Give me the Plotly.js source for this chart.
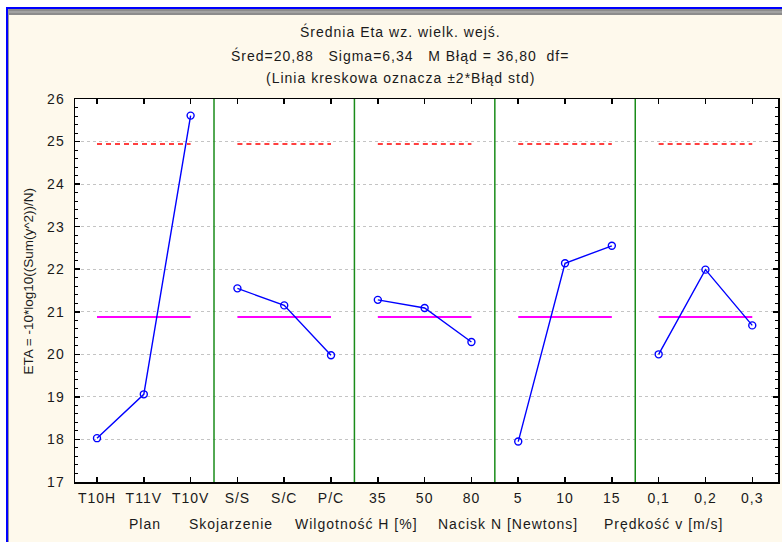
<!DOCTYPE html>
<html><head><meta charset="utf-8">
<script src="https://cdn.plot.ly/plotly-3.0.1.min.js"></script>
<style>html,body{margin:0;padding:0;background:#fff} svg text{letter-spacing:1px}</style>
</head><body><div id="chart" style="width:782px;height:542px"></div>
<script>
// ---- data ----
const categories = ['T10H','T11V','T10V','S/S','S/C','P/C','35','50','80','5','10','15','0,1','0,2','0,3'];
const groupNames = ['Plan','Skojarzenie','Wilgotność H [%]','Nacisk N [Newtons]','Prędkość v [m/s]'];
const etaValues = [18.03,19.06,25.61, 21.55,21.15,19.98, 21.28,21.09,20.29, 17.95,22.14,22.55, 20.00,21.99,20.68];
const grandMean = 20.88;
const upperLimit = 24.94;
const yTickValues = [17,18,19,20,21,22,23,24,25,26];
const titleLines = ['Średnia Eta wz. wielk. wejś.',
  'Śred=20,88   Sigma=6,34   M Błąd = 36,80  df=',
  '(Linia kreskowa oznacza ±2*Błąd std)'];
const yTitle = 'ETA = -10*log10((Sum(y^2))/N)';

// ---- layout constants ----
const W = 782, H = 542, L = 75, R = 4, T = 99, B = 60;
const PW = W - L - R, PH = H - T - B;
const px = p => (p - L) / PW;
const py = p => (H - B - p) / PH;
const groupLabelPx = [145, 231, 356, 508, 663];
const titleLinePy = [31, 55, 78];
const nb = s => s.replace(/ /g, '\u00a0');
const FONT = 'Liberation Sans, Arial, sans-serif';
const TXT = '#1a1a1a';

const groupSize = categories.length / groupNames.length;
const traces = [];
const shapes = [];
for (let g = 0; g < groupNames.length; g++) {
  const xs = categories.slice(g * groupSize, (g + 1) * groupSize);
  const ys = etaValues.slice(g * groupSize, (g + 1) * groupSize);
  const ends = [xs[0], xs[xs.length - 1]];
  traces.push({x: ends, y: [upperLimit, upperLimit], mode: 'lines', type: 'scatter',
    line: {color: '#ff0000', width: 1.5, dash: '5px,4px'}, hoverinfo: 'skip', showlegend: false});
  traces.push({x: ends, y: [grandMean, grandMean], mode: 'lines', type: 'scatter',
    line: {color: '#ff00ff', width: 2}, hoverinfo: 'skip', showlegend: false});
  traces.push({x: xs, y: ys, mode: 'lines+markers', type: 'scatter',
    line: {color: '#0000ff', width: 1.4},
    marker: {symbol: 'circle-open', size: 7, color: '#0000ff', line: {width: 1.4}},
    showlegend: false});
  if (g > 0) {
    const xb = g * groupSize - 0.5;
    shapes.push({type: 'line', xref: 'x', yref: 'paper', x0: xb, x1: xb, y0: 0, y1: 1,
      line: {color: '#1a8c1a', width: 1.5}, layer: 'above'});
  }
}

// frame decorations (window-like border)
shapes.push({type: 'rect', xref: 'paper', yref: 'paper', x0: px(0), x1: px(6), y0: py(H), y1: py(0),
  fillcolor: '#ffffff', line: {width: 0}, layer: 'below'});
shapes.push({type: 'rect', xref: 'paper', yref: 'paper', x0: px(0), x1: px(W), y0: py(7), y1: py(0),
  fillcolor: '#ffffff', line: {width: 0}, layer: 'below'});
shapes.push({type: 'rect', xref: 'paper', yref: 'paper', x0: px(8), x1: px(W), y0: py(15), y1: py(9),
  fillcolor: '#8c8c8c', line: {width: 0}, layer: 'below'});
shapes.push({type: 'rect', xref: 'paper', yref: 'paper', x0: px(8), x1: px(W), y0: py(12.6), y1: py(11.4),
  fillcolor: '#b8b8b8', line: {width: 0}, layer: 'below'});
shapes.push({type: 'rect', xref: 'paper', yref: 'paper', x0: px(8), x1: px(9), y0: py(H), y1: py(9),
  fillcolor: '#9a9a9a', line: {width: 0}, layer: 'below'});
shapes.push({type: 'rect', xref: 'paper', yref: 'paper', x0: px(6), x1: px(8), y0: py(H), y1: py(7),
  fillcolor: '#0000ff', line: {width: 0}, layer: 'below'});
shapes.push({type: 'rect', xref: 'paper', yref: 'paper', x0: px(6), x1: px(W), y0: py(9), y1: py(7),
  fillcolor: '#0000ff', line: {width: 0}, layer: 'below'});

const annotations = [];
titleLines.forEach((t, i) => annotations.push({text: nb(t), xref: 'paper', yref: 'paper',
  x: px(400), y: py(titleLinePy[i]), xanchor: 'center', yanchor: 'middle', showarrow: false,
  font: {family: FONT, size: 14, color: TXT}}));
groupNames.forEach((t, i) => annotations.push({text: t, xref: 'paper', yref: 'paper',
  x: px(groupLabelPx[i]), y: py(524), xanchor: 'center', yanchor: 'middle', showarrow: false,
  font: {family: FONT, size: 14, color: TXT}}));
annotations.push({text: yTitle, xref: 'paper', yref: 'paper', x: px(28), y: py(281),
  xanchor: 'center', yanchor: 'middle', textangle: -90, showarrow: false,
  font: {family: FONT, size: 13.5, color: TXT}});

const layout = {
  width: W, height: H,
  margin: {l: L, r: R, t: T, b: B, pad: 0},
  paper_bgcolor: '#fef9ec', plot_bgcolor: '#ffffff',
  font: {family: FONT, size: 14, color: TXT},
  showlegend: false,
  xaxis: {type: 'category', categoryorder: 'array', categoryarray: categories,
    range: [-0.47, 14.55], showgrid: false, zeroline: false,
    showline: true, linecolor: '#000', linewidth: 1.5, mirror: 'ticks',
    ticks: 'inside', ticklen: 5, tickcolor: '#000', tickwidth: 1.5,
    tickfont: {family: FONT, size: 14, color: TXT}, ticklabelstandoff: 3},
  yaxis: {range: [17, 26], tickvals: yTickValues, ticktext: yTickValues.map(String),
    showgrid: true, gridcolor: '#c4c4c4', griddash: 'dot', gridwidth: 1, zeroline: false,
    showline: true, linecolor: '#000', linewidth: 1.5, mirror: 'ticks',
    ticks: 'inside', ticklen: 5, tickcolor: '#000', tickwidth: 1.5,
    minor: {dtick: 0.2, tick0: 17, ticks: 'inside', ticklen: 3, tickcolor: '#000', tickwidth: 1, showgrid: false},
    tickfont: {family: FONT, size: 14, color: TXT}, ticklabelstandoff: 6},
  shapes: shapes,
  annotations: annotations
};

Plotly.newPlot('chart', traces, layout, {displayModeBar: false, staticPlot: true}).then(() => {
  const anns = document.querySelectorAll('#chart .annotation-text');
  const last = anns[anns.length - 1];
  if (last) last.style.letterSpacing = '0px';
});
</script></body></html>
